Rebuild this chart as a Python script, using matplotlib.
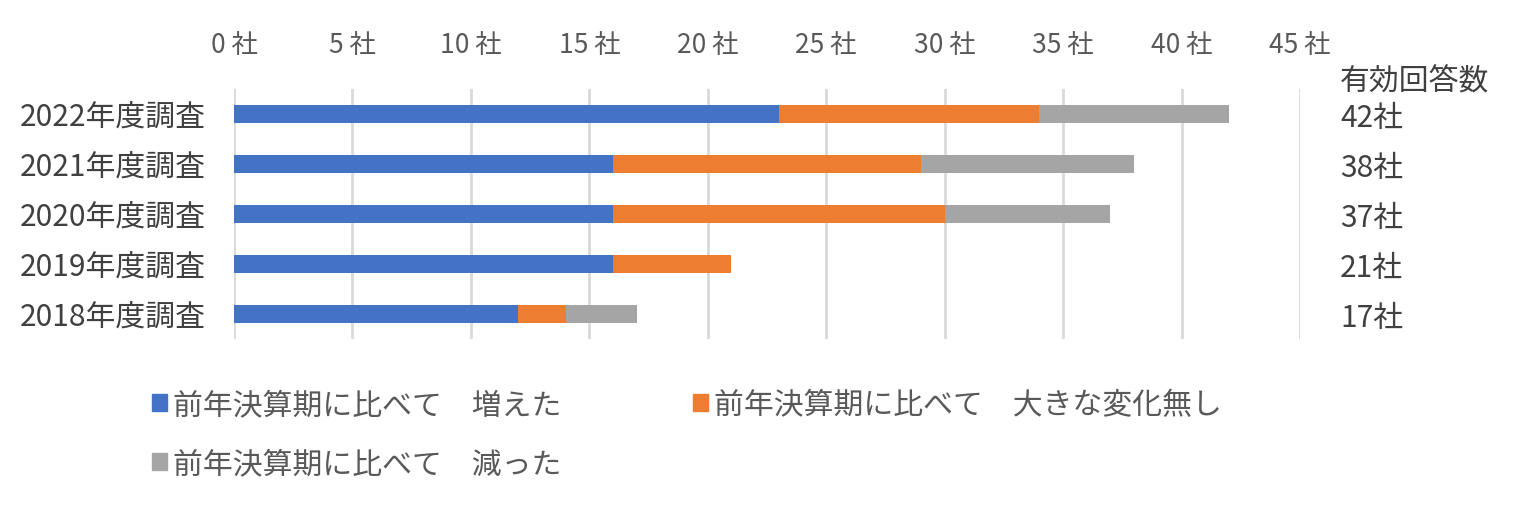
import matplotlib.pyplot as plt
from matplotlib.patches import Patch
import numpy as np

plt.rcParams['font.family'] = ['Noto Sans CJK JP', 'DejaVu Sans']

# data (bottom to top order as drawn)
years = ["2018年度調査", "2019年度調査", "2020年度調査", "2021年度調査", "2022年度調査"]
increased = [12, 16, 16, 16, 23]
no_change = [2, 5, 14, 13, 11]
decreased = [3, 0, 7, 9, 8]
series_names = ["前年決算期に比べて　増えた", "前年決算期に比べて　大きな変化無し", "前年決算期に比べて　減った"]
colors = ["#4472C4", "#ED7D31", "#A5A5A5"]
xticks = [0, 5, 10, 15, 20, 25, 30, 35, 40, 45]

text_col = "#595959"
label_col = "#404040"

fig = plt.figure(figsize=(15.19, 5.06), dpi=100)
ax = fig.add_axes([234 / 1519, 1 - 340 / 506, (1300 - 234) / 1519, 250 / 506])

y = np.arange(len(years))
inc = np.array(increased)
noc = np.array(no_change)
dec = np.array(decreased)
h = 0.36
ax.barh(y, inc, height=h, color=colors[0], zorder=3)
ax.barh(y, noc, left=inc, height=h, color=colors[1], zorder=3)
ax.barh(y, dec, left=inc + noc, height=h, color=colors[2], zorder=3)

ax.set_xlim(0, 45)
ax.set_ylim(-0.5, len(years) - 0.5)
ax.set_xticks(xticks)
ax.set_xticklabels([f"{v} 社" for v in xticks], fontsize=19, color=text_col)
ax.xaxis.tick_top()
ax.tick_params(axis='x', length=0, pad=22)
ax.set_yticks(y)
ax.set_yticklabels(years, fontsize=21.5, color=label_col)
ax.tick_params(axis='y', length=0, pad=20)
ax.grid(axis='x', color="#D9D9D9", linewidth=2, zorder=0)
for s in ax.spines.values():
    s.set_visible(False)

# totals on the right
totals = inc + noc + dec
ax.text(1340 / 1519, 1 - 82 / 506, "有効回答数", transform=fig.transFigure,
        fontsize=21.5, color=label_col, va='center', ha='left')
for yi, t in zip(y, totals):
    ax.text(1.0375, yi - 0.07, f"{t}社", transform=ax.get_yaxis_transform(),
            fontsize=21.5, color=label_col, va='center', ha='left')

# legend fills column-wise, so order handles to get row-wise layout
handles = [Patch(color=c) for c in colors]
order = [0, 2, 1]
fig.legend([handles[i] for i in order], [series_names[i] for i in order],
           loc='upper left', bbox_to_anchor=(152 / 1519, 1 - 390 / 506),
           ncol=2, frameon=False, fontsize=21.5, handlelength=0.5, handleheight=0.5,
           handletextpad=0.2, columnspacing=4.4, labelspacing=0.95,
           borderpad=0, borderaxespad=0, labelcolor=text_col)

fig.savefig("out.png", dpi=100)
